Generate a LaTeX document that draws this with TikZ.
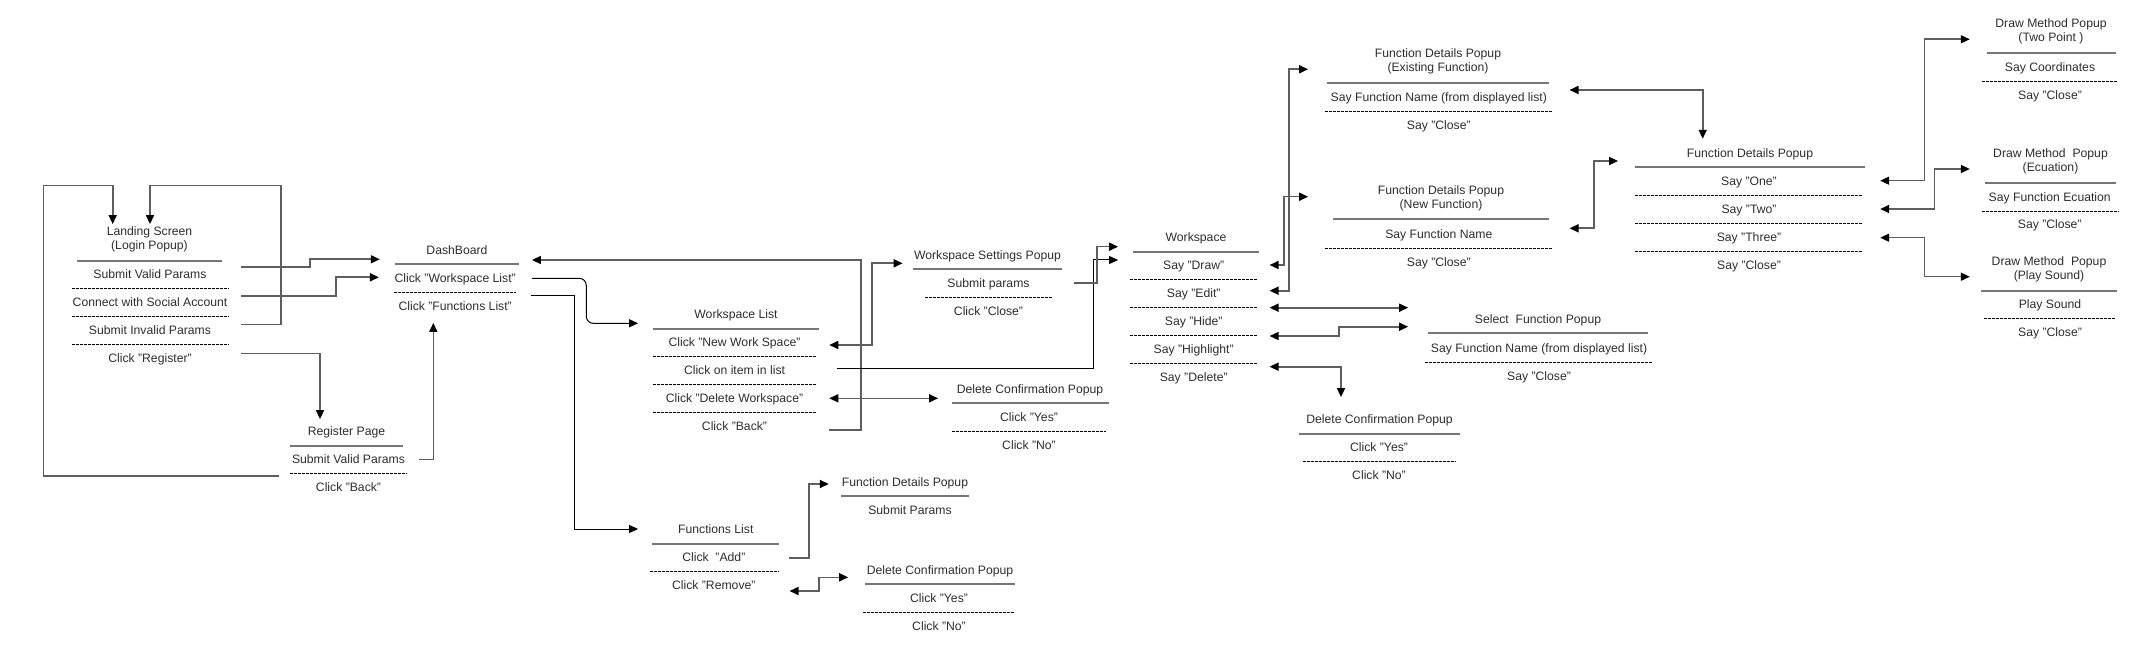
\documentclass[tikz,border=0pt]{standalone}
\usepackage{fontspec}
\setmainfont{Liberation Sans}
\usepackage{xcolor}
\usetikzlibrary{arrows.meta}

\definecolor{linegray}{HTML}{5E5E5E}
\definecolor{sepgray}{HTML}{767676}
\definecolor{txtgray}{HTML}{2E2E2E}

\tikzset{
    lbl/.style={inner sep=0pt, font=\fontsize{12.2}{14}\selectfont, text=txtgray, minimum height=28pt},
    row/.style={lbl, text height=8.7pt, text depth=0pt},
    ttl/.style={row},
    ttltwo/.style={lbl, align=center, minimum height=42pt},
    solidsep/.style={draw=sepgray, line width=1.9pt},
    dashsep/.style={draw=black, line width=0.6pt, dash pattern=on 3pt off 1pt},
    conn/.style={draw=linegray, line width=1.6pt},
    thinconn/.style={draw=black, line width=1pt},
    onearr/.style={-{Triangle[length=9pt,width=8pt,color=black]}},
    twoarr/.style={{Triangle[length=9pt,width=8pt,color=black]}-{Triangle[length=9pt,width=8pt,color=black]}},
}

\begin{document}
\begin{tikzpicture}[x=1pt, y=-1pt]
    \path[use as bounding box, fill=white] (0,0) rectangle (2154,668);

    % landing screen
    \node[ttltwo, minimum width=145pt] (ls-title) at (149.5,239.5) {Landing Screen\\(Login Popup)};
    \node[row, minimum width=156pt] (ls-valid)    at (150,274.5) {Submit Valid Params};
    \node[row, minimum width=156pt] (ls-social)   at (150,302.5) {Connect with Social Account};
    \node[row, minimum width=156pt] (ls-invalid)  at (150,330.5) {Submit Invalid Params};
    \node[row, minimum width=156pt] (ls-register) at (150,358.5) {Click "Register"};

    % register page
    \node[ttl, minimum width=113pt] (rp-title) at (346.5,431.5) {Register Page};
    \node[row, minimum width=116pt] (rp-valid) at (348.5,459.5) {Submit Valid Params};
    \node[row, minimum width=116pt] (rp-back)  at (348.5,487.5) {Click "Back"};

    % dashboard
    \node[ttl, minimum width=124pt] (db-title) at (457,250) {DashBoard};
    \node[row, minimum width=119pt] (db-wsl) at (455.2,278) {Click "Workspace List"};
    \node[row, minimum width=119pt] (db-fnl) at (455.2,306) {Click "Functions List"};

    % workspace list
    \node[ttl, minimum width=165.7pt] (wl-title) at (736,314.5) {Workspace List};
    \node[row, minimum width=162.7pt] (wl-new)  at (734.5,342.5) {Click "New Work Space"};
    \node[row, minimum width=162.7pt] (wl-item) at (734.5,370.5) {Click on item in list};
    \node[row, minimum width=162.7pt] (wl-del)  at (734.5,398.5) {Click "Delete Workspace"};
    \node[row, minimum width=162.7pt] (wl-back) at (734.5,426.5) {Click "Back"};

    % workspace settings popup
    \node[ttl, minimum width=148pt] (wsp-title) at (987.5,255) {Workspace Settings Popup};
    \node[row, minimum width=127.5pt] (wsp-submit) at (988.5,283) {Submit params};
    \node[row, minimum width=127.5pt] (wsp-close)  at (988.5,311) {Click "Close"};

    % delete confirmation (workspace)
    \node[ttl, minimum width=156.6pt] (dc1-title) at (1030,388.7) {Delete Confirmation Popup};
    \node[row, minimum width=154pt] (dc1-yes) at (1029,416.7) {Click "Yes"};
    \node[row, minimum width=154pt] (dc1-no)  at (1029,444.7) {Click "No"};

    % functions list
    \node[ttl, minimum width=126.3pt] (fl-title) at (715.8,529.5) {Functions List};
    \node[row, minimum width=127.7pt] (fl-add) at (713.8,557.5) {Click\ \ "Add"};
    \node[row, minimum width=127.7pt] (fl-rem) at (713.8,585.5) {Click "Remove"};

    % function details (from list)
    \node[ttl, minimum width=127pt] (fdp-title) at (905,482) {Function Details Popup};
    \node[row] (fdp-submit) at (910,510) {Submit Params};

    % delete confirmation (function)
    \node[ttl, minimum width=149.3pt] (dc3-title) at (940,570) {Delete Confirmation Popup};
    \node[row, minimum width=151.4pt] (dc3-yes) at (939,598) {Click "Yes"};
    \node[row, minimum width=151.4pt] (dc3-no)  at (939,626) {Click "No"};

    % workspace
    \node[ttl, minimum width=126pt] (ws-title) at (1196,237.5) {Workspace};
    \node[row, minimum width=127.3pt] (ws-draw) at (1193.7,265) {Say "Draw"};
    \node[row, minimum width=127.3pt] (ws-edit) at (1193.7,293) {Say "Edit"};
    \node[row, minimum width=127.3pt] (ws-hide) at (1193.7,321) {Say "Hide"};
    \node[row, minimum width=127.3pt] (ws-hl)   at (1193.7,349) {Say "Highlight"};
    \node[row, minimum width=127.3pt] (ws-del)  at (1193.7,377) {Say "Delete"};

    % function details, existing and new
    \node[ttltwo, minimum width=221pt] (fde-title) at (1438,61.7) {Function Details Popup\\(Existing Function)};
    \node[row, minimum width=226.4pt] (fde-name)  at (1438.8,96.7) {Say Function Name (from displayed list)};
    \node[row, minimum width=226.4pt] (fde-close) at (1438.8,124.7) {Say "Close"};
    \node[ttltwo, minimum width=215.5pt] (fdn-title) at (1441,198) {Function Details Popup\\(New Function)};
    \node[row, minimum width=226.4pt] (fdn-name)  at (1438.8,234.5) {Say Function Name};
    \node[row, minimum width=226.4pt] (fdn-close) at (1438.8,262.5) {Say "Close"};

    % select function popup
    \node[ttl, minimum width=219.4pt] (sfp-title) at (1538,319) {Select\ \ Function Popup};
    \node[row, minimum width=227.4pt] (sfp-name)  at (1539,348) {Say Function Name (from displayed list)};
    \node[row, minimum width=227.4pt] (sfp-close) at (1539,376) {Say "Close"};

    % delete confirmation (workspace item)
    \node[ttl, minimum width=160pt] (dc2-title) at (1379.5,419.5) {Delete Confirmation Popup};
    \node[row, minimum width=151.7pt] (dc2-yes) at (1379,447.5) {Click "Yes"};
    \node[row, minimum width=151.7pt] (dc2-no)  at (1379,475.5) {Click "No"};

    % function details popup
    \node[ttl, minimum width=229.7pt] (fd-title) at (1750,152.7) {Function Details Popup};
    \node[row, minimum width=227.4pt] (fd-one)   at (1749,180.7) {Say "One"};
    \node[row, minimum width=227.4pt] (fd-two)   at (1749,208.7) {Say "Two"};
    \node[row, minimum width=227.4pt] (fd-three) at (1749,236.7) {Say "Three"};
    \node[row, minimum width=227.4pt] (fd-close) at (1749,264.7) {Say "Close"};

    % draw method popups
    \node[ttltwo, minimum width=128.6pt] (dm1-title) at (2051,31.5) {Draw Method Popup\\(Two Point\ )};
    \node[row, minimum width=135.4pt] (dm1-coord) at (2050,66.7) {Say Coordinates};
    \node[row, minimum width=135.4pt] (dm1-close) at (2050,94.7) {Say "Close"};
    \node[ttltwo, minimum width=130.4pt] (dm2-title) at (2050.5,161.5) {Draw Method\ \ Popup\\(Ecuation)};
    \node[row, minimum width=136pt] (dm2-eq)    at (2049.7,196.7) {Say Function Ecuation};
    \node[row, minimum width=136pt] (dm2-close) at (2049.7,224.5) {Say "Close"};
    \node[ttltwo, minimum width=135.3pt] (dm3-title) at (2049,269.7) {Draw Method\ \ Popup\\(Play Sound)};
    \node[row, minimum width=131pt] (dm3-play)  at (2050,304.5) {Play Sound};
    \node[row, minimum width=131pt] (dm3-close) at (2050,332.5) {Say "Close"};

    % separators under the titles
    \draw[solidsep]
        (ls-title.south west) -- (ls-title.south east)
        (rp-title.south west) -- (rp-title.south east)
        (db-title.south west) -- (db-title.south east)
        (wl-title.south west) -- (wl-title.south east)
        (wsp-title.south west) -- (wsp-title.south east)
        (dc1-title.south west) -- (dc1-title.south east)
        (fl-title.south west) -- (fl-title.south east)
        (fdp-title.south west) -- (fdp-title.south east)
        (dc3-title.south west) -- (dc3-title.south east)
        (ws-title.south west) -- (ws-title.south east)
        (fde-title.south west) -- (fde-title.south east)
        (fdn-title.south west) -- (fdn-title.south east)
        (sfp-title.south west) -- (sfp-title.south east)
        (dc2-title.south west) -- (dc2-title.south east)
        (fd-title.south west) -- (fd-title.south east)
        (dm1-title.south west) -- (dm1-title.south east)
        (dm2-title.south west) -- (dm2-title.south east)
        (dm3-title.south west) -- (dm3-title.south east);

    % separators between the rows
    \draw[dashsep]
        (ls-valid.south west) -- (ls-valid.south east)
        (ls-social.south west) -- (ls-social.south east)
        (ls-invalid.south west) -- (ls-invalid.south east)
        (rp-valid.south west) -- (rp-valid.south east)
        (db-wsl.south west) -- (db-wsl.south east)
        (wl-new.south west) -- (wl-new.south east)
        (wl-item.south west) -- (wl-item.south east)
        (wl-del.south west) -- (wl-del.south east)
        (wsp-submit.south west) -- (wsp-submit.south east)
        (dc1-yes.south west) -- (dc1-yes.south east)
        (fl-add.south west) -- (fl-add.south east)
        (dc3-yes.south west) -- (dc3-yes.south east)
        (ws-draw.south west) -- (ws-draw.south east)
        (ws-edit.south west) -- (ws-edit.south east)
        (ws-hide.south west) -- (ws-hide.south east)
        (ws-hl.south west) -- (ws-hl.south east)
        (fde-name.south west) -- (fde-name.south east)
        (fdn-name.south west) -- (fdn-name.south east)
        (sfp-name.south west) -- (sfp-name.south east)
        (dc2-yes.south west) -- (dc2-yes.south east)
        (fd-one.south west) -- (fd-one.south east)
        (fd-two.south west) -- (fd-two.south east)
        (fd-three.south west) -- (fd-three.south east)
        (dm1-coord.south west) -- (dm1-coord.south east)
        (dm2-eq.south west) -- (dm2-eq.south east)
        (dm3-play.south west) -- (dm3-play.south east);

    % login flow
    \draw[conn, onearr] ([shift={(13,-7.5)}]ls-valid.east) -- ++(68.5,0) |- ([shift={(-15,9.3)}]db-title.west);
    \draw[conn, onearr] ([shift={(13,-6.5)}]ls-social.east) -- ++(95,0) |- ([shift={(-15.5,-0.7)}]db-wsl.west);
    \draw[conn, onearr] ([shift={(13,-6.2)}]ls-invalid.east) -- ++(39.5,0) -- ++(0,-138.6) -| ([shift={(0.5,5.8)}]ls-title.north);
    \draw[conn, onearr] ([shift={(13,-5.2)}]ls-register.east) -| ([shift={(-26.5,1.8)}]rp-title.north);
    \draw[conn, onearr] ([shift={(-11.2,-11.5)}]rp-back.west) -- ++(-235.6,0) -- ++(0,-290.3) -| ([shift={(-36.8,5.8)}]ls-title.north);
    \draw[conn, onearr] ([shift={(12.5,0)}]rp-valid.east) -| ([shift={(-21.9,2.7)}]db-fnl.south);

    % dashboard and lists
    \draw[conn, onearr] ([shift={(13.2,3.5)}]wl-back.east) -- ++(32,0) |- ([shift={(12.7,10)}]db-title.east);
    \draw[thinconn, onearr, rounded corners=7pt] ([shift={(16,0.3)}]db-wsl.east) -- ++(54.3,0) |- ([shift={(-14.85,8.8)}]wl-title.west);
    \draw[thinconn, onearr] ([shift={(16,-10.3)}]db-fnl.east) -- ++(43.6,0) |- ([shift={(-14.35,-0.5)}]fl-title.west);
    \draw[conn, twoarr] ([shift={(13.2,2.5)}]wl-new.east) -- ++(42.7,0) |- ([shift={(-10.7,8.3)}]wsp-title.west);
    \draw[thinconn, onearr] ([shift={(20.9,-2.2)}]wl-item.east) -- ++(256.6,0) |- ([shift={(-11.75,-5)}]ws-draw.west);
    \draw[conn, twoarr] ([shift={(13.2,-0.2)}]wl-del.east) -- ([shift={(-13.4,9.6)}]dc1-title.west);
    \draw[conn, onearr] ([shift={(21.75,0)}]wsp-submit.east) -- ++(22.7,0) |- ([shift={(-14.7,9.2)}]ws-title.west);
    \draw[conn, onearr] ([shift={(11.35,0.2)}]fl-add.east) -- ++(20,0) |- ([shift={(-12.5,2)}]fdp-title.west);
    \draw[conn, twoarr] ([shift={(11.65,5.5)}]fl-rem.east) -- ++(29.7,0) |- ([shift={(-17,7.3)}]dc3-title.west);

    % workspace commands
    \draw[conn, twoarr] ([shift={(12,0)}]ws-draw.east) -- ++(14.4,0) |- ([shift={(-24.95,-1.3)}]fdn-title.west);
    \draw[conn, twoarr] ([shift={(12,-2.3)}]ws-edit.east) -- ++(19.4,0) |- ([shift={(-19.2,7.6)}]fde-title.west);
    \draw[conn, twoarr] ([shift={(12,-13.3)}]ws-hide.east) -- ([shift={(-20,-11.3)}]sfp-title.west);
    \draw[conn, twoarr] ([shift={(12,-13)}]ws-hl.east) -- ++(69.7,0) |- ([shift={(-20,7.7)}]sfp-title.west);
    \draw[conn, twoarr] ([shift={(12,-10.3)}]ws-del.east) -| ([shift={(-38.5,-8.2)}]dc2-title.north);

    % function details
    \draw[conn, twoarr] ([shift={(17.3,-6.7)}]fde-name.east) -| ([shift={(-47.3,0.3)}]fd-title.north);
    \draw[conn, twoarr] ([shift={(17.3,-6.2)}]fdn-name.east) -- ++(24.7,0) |- ([shift={(-16.85,8.3)}]fd-title.west);
    \draw[conn, twoarr] ([shift={(17.3,0)}]fd-one.east) -- ++(44.3,0) |- ([shift={(-16.7,7.8)}]dm1-title.west);
    \draw[conn, twoarr] ([shift={(17.3,0.3)}]fd-two.east) -- ++(54.3,0) |- ([shift={(-15.3,7.5)}]dm2-title.west);
    \draw[conn, twoarr] ([shift={(17.3,1)}]fd-three.east) -- ++(44.3,0) |- ([shift={(-11.35,7)}]dm3-title.west);
\end{tikzpicture}
\end{document}
